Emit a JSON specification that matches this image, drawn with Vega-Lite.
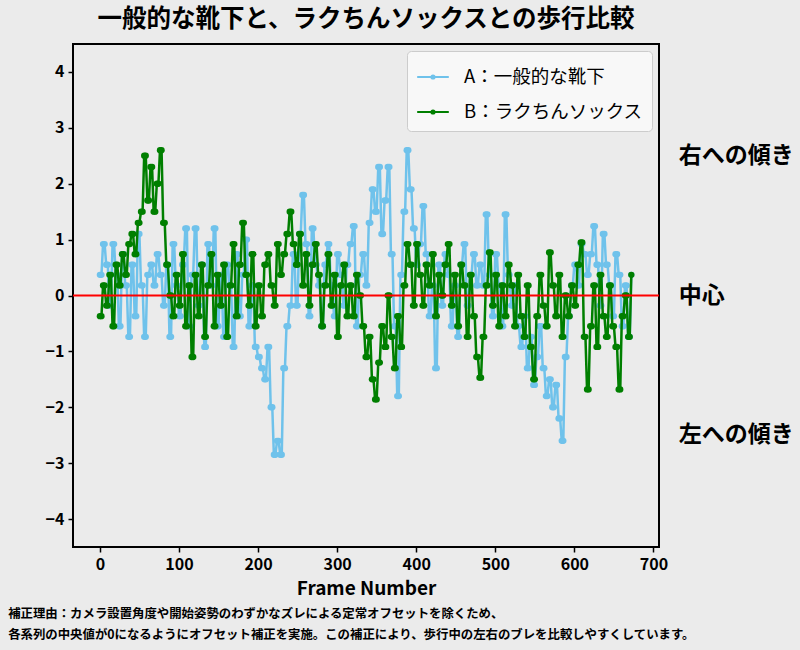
{
  "$schema": "https://vega.github.io/schema/vega-lite/v6.json",
  "width": 586,
  "height": 503,
  "autosize": {"type": "none"},
  "padding": {"left": 73, "top": 44, "right": 141, "bottom": 103},
  "background": "#ebebeb",
  "title": {"text": "一般的な靴下と、ラクちんソックスとの歩行比較", "font": "Noto Sans CJK JP", "fontSize": 24.5, "fontWeight": "bold", "color": "black", "anchor": "middle", "offset": 12},
  "config": {
    "font": "Noto Sans CJK JP",
    "view": {"stroke": "black", "strokeWidth": 2, "fill": "#ebebeb"},
    "axis": {"labelFont": "Noto Sans CJK JP", "labelFontWeight": "bold", "labelFontSize": 16, "labelColor": "black", "tickColor": "black", "tickWidth": 1.5, "tickSize": 5, "domain": false, "grid": false, "titleFont": "Noto Sans CJK JP", "titleFontWeight": "bold", "titleFontSize": 19, "titleColor": "black", "labelPadding": 4}
  },
  "data": {"values": [
    {"frame":0,"A":0.37,"B":-0.37},{"frame":2,"A":0.37,"B":-0.37},{"frame":4,"A":0.92,"B":0.18},{"frame":6,"A":0.92,"B":0.18},{"frame":8,"A":0.55,"B":-0.18},{"frame":10,"A":0.55,"B":-0.18},{"frame":12,"A":-0.18,"B":0.37},{"frame":14,"A":-0.18,"B":0.37},{"frame":16,"A":0.92,"B":-0.55},{"frame":18,"A":0.92,"B":-0.55},
    {"frame":20,"A":0.37,"B":0.55},{"frame":22,"A":0.37,"B":0.55},{"frame":24,"A":-0.55,"B":0.18},{"frame":26,"A":-0.55,"B":0.18},{"frame":28,"A":0.74,"B":0.74},{"frame":30,"A":0.74,"B":0.74},{"frame":32,"A":0.18,"B":0.37},{"frame":34,"A":0.18,"B":0.37},{"frame":36,"A":-0.74,"B":0.92},{"frame":38,"A":-0.74,"B":0.92},
    {"frame":40,"A":0.55,"B":1.1},{"frame":42,"A":0.55,"B":1.1},{"frame":44,"A":-0.37,"B":0.74},{"frame":46,"A":-0.37,"B":0.74},{"frame":48,"A":1.1,"B":1.3},{"frame":50,"A":1.1,"B":1.3},{"frame":52,"A":0.18,"B":1.5},{"frame":54,"A":0.18,"B":1.5},{"frame":56,"A":-0.74,"B":2.5},{"frame":58,"A":-0.74,"B":2.5},
    {"frame":60,"A":0.37,"B":1.7},{"frame":62,"A":0.37,"B":1.7},{"frame":64,"A":0.55,"B":2.3},{"frame":66,"A":0.55,"B":2.3},{"frame":68,"A":0.18,"B":1.5},{"frame":70,"A":0.18,"B":1.5},{"frame":72,"A":0.74,"B":2.0},{"frame":74,"A":0.74,"B":2.0},{"frame":76,"A":0.37,"B":2.6},{"frame":78,"A":0.37,"B":2.6},
    {"frame":80,"A":-0.18,"B":1.3},{"frame":82,"A":-0.18,"B":1.3},{"frame":84,"A":0.55,"B":0.55},{"frame":86,"A":0.55,"B":0.55},{"frame":88,"A":-0.74,"B":0.0},{"frame":90,"A":-0.74,"B":0.0},{"frame":92,"A":0.92,"B":-0.37},{"frame":94,"A":0.92,"B":-0.37},{"frame":96,"A":0.18,"B":0.37},{"frame":98,"A":0.18,"B":0.37},
    {"frame":100,"A":-0.37,"B":-0.18},{"frame":102,"A":-0.37,"B":-0.18},{"frame":104,"A":0.55,"B":0.74},{"frame":106,"A":0.55,"B":0.74},{"frame":108,"A":1.2,"B":-0.55},{"frame":110,"A":1.2,"B":-0.55},{"frame":112,"A":-0.55,"B":0.18},{"frame":114,"A":-0.55,"B":0.18},{"frame":116,"A":0.37,"B":-1.1},{"frame":118,"A":0.37,"B":-1.1},
    {"frame":120,"A":1.2,"B":0.37},{"frame":122,"A":1.2,"B":0.37},{"frame":124,"A":-0.18,"B":-0.37},{"frame":126,"A":-0.18,"B":-0.37},{"frame":128,"A":0.55,"B":0.55},{"frame":130,"A":0.55,"B":0.55},{"frame":132,"A":-0.92,"B":-0.74},{"frame":134,"A":-0.92,"B":-0.74},{"frame":136,"A":0.92,"B":0.18},{"frame":138,"A":0.92,"B":0.18},
    {"frame":140,"A":0.18,"B":0.74},{"frame":142,"A":0.18,"B":0.74},{"frame":144,"A":1.2,"B":-0.55},{"frame":146,"A":1.2,"B":-0.55},{"frame":148,"A":-0.55,"B":0.37},{"frame":150,"A":-0.55,"B":0.37},{"frame":152,"A":0.37,"B":-0.18},{"frame":154,"A":0.37,"B":-0.18},{"frame":156,"A":-0.74,"B":0.55},{"frame":158,"A":-0.74,"B":0.55},
    {"frame":160,"A":0.55,"B":-0.74},{"frame":162,"A":0.55,"B":-0.74},{"frame":164,"A":0.18,"B":0.18},{"frame":166,"A":0.18,"B":0.18},{"frame":168,"A":-0.92,"B":0.92},{"frame":170,"A":-0.92,"B":0.92},{"frame":172,"A":0.74,"B":-0.37},{"frame":174,"A":0.74,"B":-0.37},{"frame":176,"A":-0.37,"B":0.55},{"frame":178,"A":-0.37,"B":0.55},
    {"frame":180,"A":0.37,"B":1.3},{"frame":182,"A":0.37,"B":1.3},{"frame":184,"A":1.0,"B":0.37},{"frame":186,"A":1.0,"B":0.37},{"frame":188,"A":-0.55,"B":-0.18},{"frame":190,"A":-0.55,"B":-0.18},{"frame":192,"A":0.18,"B":0.74},{"frame":194,"A":0.18,"B":0.74},{"frame":196,"A":-0.92,"B":-0.55},{"frame":198,"A":-0.92,"B":-0.55},
    {"frame":200,"A":-1.1,"B":0.18},{"frame":202,"A":-1.1,"B":0.18},{"frame":204,"A":-1.3,"B":-0.37},{"frame":206,"A":-1.3,"B":-0.37},{"frame":208,"A":-1.5,"B":0.55},{"frame":210,"A":-1.5,"B":0.55},{"frame":212,"A":-0.92,"B":0.74},{"frame":214,"A":-0.92,"B":0.74},{"frame":216,"A":-2.0,"B":0.18},{"frame":218,"A":-2.0,"B":0.18},
    {"frame":220,"A":-2.85,"B":-0.18},{"frame":222,"A":-2.85,"B":-0.18},{"frame":224,"A":-2.6,"B":0.92},{"frame":226,"A":-2.6,"B":0.92},{"frame":228,"A":-2.85,"B":0.37},{"frame":230,"A":-2.85,"B":0.37},{"frame":232,"A":-1.3,"B":0.74},{"frame":234,"A":-1.3,"B":0.74},{"frame":236,"A":-0.55,"B":1.1},{"frame":238,"A":-0.55,"B":1.1},
    {"frame":240,"A":-0.18,"B":1.5},{"frame":242,"A":-0.18,"B":1.5},{"frame":244,"A":0.74,"B":0.92},{"frame":246,"A":0.74,"B":0.92},{"frame":248,"A":-0.18,"B":0.55},{"frame":250,"A":-0.18,"B":0.55},{"frame":252,"A":1.1,"B":1.1},{"frame":254,"A":1.1,"B":1.1},{"frame":256,"A":1.8,"B":0.18},{"frame":258,"A":1.8,"B":0.18},
    {"frame":260,"A":0.92,"B":0.74},{"frame":262,"A":0.92,"B":0.74},{"frame":264,"A":-0.37,"B":-0.18},{"frame":266,"A":-0.37,"B":-0.18},{"frame":268,"A":1.2,"B":0.55},{"frame":270,"A":1.2,"B":0.55},{"frame":272,"A":0.55,"B":0.92},{"frame":274,"A":0.55,"B":0.92},{"frame":276,"A":0.18,"B":0.37},{"frame":278,"A":0.18,"B":0.37},
    {"frame":280,"A":-0.55,"B":-0.55},{"frame":282,"A":-0.55,"B":-0.55},{"frame":284,"A":0.55,"B":0.18},{"frame":286,"A":0.55,"B":0.18},{"frame":288,"A":0.92,"B":0.74},{"frame":290,"A":0.92,"B":0.74},{"frame":292,"A":0.18,"B":-0.18},{"frame":294,"A":0.18,"B":-0.18},{"frame":296,"A":-0.37,"B":0.37},{"frame":298,"A":-0.37,"B":0.37},
    {"frame":300,"A":0.74,"B":-0.74},{"frame":302,"A":0.74,"B":-0.74},{"frame":304,"A":0.37,"B":0.18},{"frame":306,"A":0.37,"B":0.18},{"frame":308,"A":-0.18,"B":0.55},{"frame":310,"A":-0.18,"B":0.55},{"frame":312,"A":0.55,"B":-0.37},{"frame":314,"A":0.55,"B":-0.37},{"frame":316,"A":0.92,"B":0.18},{"frame":318,"A":0.92,"B":0.18},
    {"frame":320,"A":1.24,"B":-0.37},{"frame":322,"A":1.24,"B":-0.37},{"frame":324,"A":-0.55,"B":0.37},{"frame":326,"A":-0.55,"B":0.37},{"frame":328,"A":0.37,"B":0.0},{"frame":330,"A":0.37,"B":0.0},{"frame":332,"A":0.74,"B":-0.55},{"frame":334,"A":0.74,"B":-0.55},{"frame":336,"A":0.18,"B":-1.1},{"frame":338,"A":0.18,"B":-1.1},
    {"frame":340,"A":1.3,"B":-0.74},{"frame":342,"A":1.3,"B":-0.74},{"frame":344,"A":1.9,"B":-1.5},{"frame":346,"A":1.9,"B":-1.5},{"frame":348,"A":1.5,"B":-1.86},{"frame":350,"A":1.5,"B":-1.86},{"frame":352,"A":2.3,"B":-1.2},{"frame":354,"A":2.3,"B":-1.2},{"frame":356,"A":1.1,"B":-0.55},{"frame":358,"A":1.1,"B":-0.55},
    {"frame":360,"A":1.7,"B":-0.92},{"frame":362,"A":1.7,"B":-0.92},{"frame":364,"A":2.3,"B":0.0},{"frame":366,"A":2.3,"B":0.0},{"frame":368,"A":0.74,"B":-0.74},{"frame":370,"A":0.74,"B":-0.74},{"frame":372,"A":-0.55,"B":-1.3},{"frame":374,"A":-0.55,"B":-1.3},{"frame":376,"A":-1.8,"B":-0.37},{"frame":378,"A":-1.8,"B":-0.37},
    {"frame":380,"A":0.37,"B":-0.92},{"frame":382,"A":0.37,"B":-0.92},{"frame":384,"A":1.5,"B":0.18},{"frame":386,"A":1.5,"B":0.18},{"frame":388,"A":2.6,"B":0.92},{"frame":390,"A":2.6,"B":0.92},{"frame":392,"A":1.9,"B":0.55},{"frame":394,"A":1.9,"B":0.55},{"frame":396,"A":1.2,"B":-0.18},{"frame":398,"A":1.2,"B":-0.18},
    {"frame":400,"A":0.55,"B":0.92},{"frame":402,"A":0.55,"B":0.92},{"frame":404,"A":0.92,"B":0.37},{"frame":406,"A":0.92,"B":0.37},{"frame":408,"A":1.6,"B":-0.18},{"frame":410,"A":1.6,"B":-0.18},{"frame":412,"A":0.74,"B":0.55},{"frame":414,"A":0.74,"B":0.55},{"frame":416,"A":-0.37,"B":0.18},{"frame":418,"A":-0.37,"B":0.18},
    {"frame":420,"A":0.18,"B":0.74},{"frame":422,"A":0.18,"B":0.74},{"frame":424,"A":-1.3,"B":-0.37},{"frame":426,"A":-1.3,"B":-0.37},{"frame":428,"A":0.55,"B":0.37},{"frame":430,"A":0.55,"B":0.37},{"frame":432,"A":-0.18,"B":0.0},{"frame":434,"A":-0.18,"B":0.0},{"frame":436,"A":0.74,"B":0.55},{"frame":438,"A":0.74,"B":0.55},
    {"frame":440,"A":0.37,"B":0.92},{"frame":442,"A":0.37,"B":0.92},{"frame":444,"A":-0.55,"B":-0.18},{"frame":446,"A":-0.55,"B":-0.18},{"frame":448,"A":0.18,"B":0.37},{"frame":450,"A":0.18,"B":0.37},{"frame":452,"A":-0.74,"B":-0.55},{"frame":454,"A":-0.74,"B":-0.55},{"frame":456,"A":0.55,"B":0.55},{"frame":458,"A":0.55,"B":0.55},
    {"frame":460,"A":0.92,"B":0.18},{"frame":462,"A":0.92,"B":0.18},{"frame":464,"A":-0.18,"B":-0.74},{"frame":466,"A":-0.18,"B":-0.74},{"frame":468,"A":0.37,"B":0.37},{"frame":470,"A":0.37,"B":0.37},{"frame":472,"A":0.74,"B":-0.37},{"frame":474,"A":0.74,"B":-0.37},{"frame":476,"A":0.18,"B":-1.1},{"frame":478,"A":0.18,"B":-1.1},
    {"frame":480,"A":0.55,"B":-1.47},{"frame":482,"A":0.55,"B":-1.47},{"frame":484,"A":0.18,"B":-0.74},{"frame":486,"A":0.18,"B":-0.74},{"frame":488,"A":1.45,"B":0.18},{"frame":490,"A":1.45,"B":0.18},{"frame":492,"A":0.37,"B":0.77},{"frame":494,"A":0.37,"B":0.77},{"frame":496,"A":-0.37,"B":-0.18},{"frame":498,"A":-0.37,"B":-0.18},
    {"frame":500,"A":0.74,"B":0.37},{"frame":502,"A":0.74,"B":0.37},{"frame":504,"A":0.18,"B":-0.55},{"frame":506,"A":0.18,"B":-0.55},{"frame":508,"A":-0.55,"B":0.18},{"frame":510,"A":-0.55,"B":0.18},{"frame":512,"A":1.45,"B":-0.37},{"frame":514,"A":1.45,"B":-0.37},{"frame":516,"A":0.37,"B":0.55},{"frame":518,"A":0.37,"B":0.55},
    {"frame":520,"A":-0.18,"B":0.18},{"frame":522,"A":-0.18,"B":0.18},{"frame":524,"A":0.18,"B":-0.55},{"frame":526,"A":0.18,"B":-0.55},{"frame":528,"A":-0.55,"B":0.37},{"frame":530,"A":-0.55,"B":0.37},{"frame":532,"A":-0.92,"B":-0.37},{"frame":534,"A":-0.92,"B":-0.37},{"frame":536,"A":-0.37,"B":-0.74},{"frame":538,"A":-0.37,"B":-0.74},
    {"frame":540,"A":-1.3,"B":0.18},{"frame":542,"A":-1.3,"B":0.18},{"frame":544,"A":-0.74,"B":-0.92},{"frame":546,"A":-0.74,"B":-0.92},{"frame":548,"A":-1.6,"B":-1.5},{"frame":550,"A":-1.6,"B":-1.5},{"frame":552,"A":-1.1,"B":-0.37},{"frame":554,"A":-1.1,"B":-0.37},{"frame":556,"A":-0.55,"B":0.37},{"frame":558,"A":-0.55,"B":0.37},
    {"frame":560,"A":-1.3,"B":-0.18},{"frame":562,"A":-1.3,"B":-0.18},{"frame":564,"A":-1.8,"B":-0.55},{"frame":566,"A":-1.8,"B":-0.55},{"frame":568,"A":-1.5,"B":0.77},{"frame":570,"A":-1.5,"B":0.77},{"frame":572,"A":-2.0,"B":0.18},{"frame":574,"A":-2.0,"B":0.18},{"frame":576,"A":-1.6,"B":-0.37},{"frame":578,"A":-1.6,"B":-0.37},
    {"frame":580,"A":-2.2,"B":0.37},{"frame":582,"A":-2.2,"B":0.37},{"frame":584,"A":-2.6,"B":-0.74},{"frame":586,"A":-2.6,"B":-0.74},{"frame":588,"A":-1.1,"B":0.0},{"frame":590,"A":-1.1,"B":0.0},{"frame":592,"A":-0.37,"B":-0.37},{"frame":594,"A":-0.37,"B":-0.37},{"frame":596,"A":0.18,"B":0.18},{"frame":598,"A":0.18,"B":0.18},
    {"frame":600,"A":0.55,"B":-0.18},{"frame":602,"A":0.55,"B":-0.18},{"frame":604,"A":0.18,"B":0.55},{"frame":606,"A":0.18,"B":0.55},{"frame":608,"A":0.92,"B":0.95},{"frame":610,"A":0.92,"B":0.95},{"frame":612,"A":0.74,"B":-0.74},{"frame":614,"A":0.74,"B":-0.74},{"frame":616,"A":0.37,"B":-1.68},{"frame":618,"A":0.37,"B":-1.68},
    {"frame":620,"A":0.74,"B":-0.55},{"frame":622,"A":0.74,"B":-0.55},{"frame":624,"A":1.24,"B":0.18},{"frame":626,"A":1.24,"B":0.18},{"frame":628,"A":0.55,"B":-0.92},{"frame":630,"A":0.55,"B":-0.92},{"frame":632,"A":-0.18,"B":0.37},{"frame":634,"A":-0.18,"B":0.37},{"frame":636,"A":1.1,"B":-0.37},{"frame":638,"A":1.1,"B":-0.37},
    {"frame":640,"A":0.55,"B":-0.74},{"frame":642,"A":0.55,"B":-0.74},{"frame":644,"A":0.18,"B":0.18},{"frame":646,"A":0.18,"B":0.18},{"frame":648,"A":-0.37,"B":-0.55},{"frame":650,"A":-0.37,"B":-0.55},{"frame":652,"A":0.74,"B":-0.92},{"frame":654,"A":0.74,"B":-0.92},{"frame":656,"A":0.37,"B":-1.68},{"frame":658,"A":0.37,"B":-1.68},
    {"frame":660,"A":-0.55,"B":-0.37},{"frame":662,"A":-0.55,"B":-0.37},{"frame":664,"A":0.18,"B":0.0},{"frame":666,"A":0.18,"B":0.0},{"frame":668,"A":-0.74,"B":-0.74},{"frame":670,"A":-0.74,"B":-0.74},{"frame":672,"A":0.37,"B":0.37}
  ]},
  "transform": [{"fold": ["A", "B"], "as": ["series", "value"]}],
  "layer": [
    {
      "transform": [{"filter": "datum.series === 'A'"}],
      "mark": {"type": "line", "strokeWidth": 2.5, "point": {"filled": true, "size": 40}},
      "encoding": {
        "x": {"field": "frame", "type": "quantitative", "scale": {"domain": [-34, 707], "nice": false, "zero": false}, "axis": {"values": [0,100,200,300,400,500,600,700], "title": "Frame Number", "titlePadding": 7}},
        "y": {"field": "value", "type": "quantitative", "scale": {"domain": [-4.5, 4.5], "nice": false}, "axis": {"values": [-4,-3,-2,-1,0,1,2,3,4], "format": "d", "title": null}},
        "color": {"field": "series", "type": "nominal", "scale": {"domain": ["A", "B"], "range": ["#6FC2EB", "#007F00"]},
          "legend": {"title": null, "orient": "top-right", "offset": 7, "labelExpr": "datum.value === 'A' ? 'A：一般的な靴下' : 'B：ラクちんソックス'", "labelFont": "Noto Sans CJK JP", "labelFontSize": 18.5, "labelLimit": 400, "labelColor": "black", "labelOffset": 14, "rowPadding": 8, "padding": 9, "fillColor": "#f8f8f8", "strokeColor": "#cccccc", "cornerRadius": 4, "symbolType": "M-1,0H1M-0.1,0A0.1,0.1 0 1,0 0.1,0A0.1,0.1 0 1,0 -0.1,0Z", "symbolSize": 1000, "symbolStrokeWidth": 2,
            "encode": {"symbols": {"update": {"fill": {"scale": "color", "field": "value"}, "stroke": {"scale": "color", "field": "value"}, "strokeWidth": {"value": 2}, "opacity": {"value": 1}}}}}
        }
      }
    },
    {
      "transform": [{"filter": "datum.series === 'B'"}],
      "mark": {"type": "line", "strokeWidth": 2.5, "point": {"filled": true, "size": 40}},
      "encoding": {
        "x": {"field": "frame", "type": "quantitative"},
        "y": {"field": "value", "type": "quantitative"},
        "color": {"field": "series", "type": "nominal"}
      }
    },
    {
      "data": {"values": [{}]},
      "mark": {"type": "rule", "color": "red", "strokeWidth": 2},
      "encoding": {"y": {"datum": 0}}
    },
    {
      "data": {"values": [{}]},
      "mark": {"type": "text", "align": "left", "baseline": "middle", "fontSize": 23, "fontWeight": "bold", "color": "black"},
      "encoding": {"x": {"datum": 732}, "y": {"datum": 2.5}, "text": {"value": "右への傾き"}}
    },
    {
      "data": {"values": [{}]},
      "mark": {"type": "text", "align": "left", "baseline": "middle", "fontSize": 23, "fontWeight": "bold", "color": "black"},
      "encoding": {"x": {"datum": 732}, "y": {"datum": 0}, "text": {"value": "中心"}}
    },
    {
      "data": {"values": [{}]},
      "mark": {"type": "text", "align": "left", "baseline": "middle", "fontSize": 23, "fontWeight": "bold", "color": "black"},
      "encoding": {"x": {"datum": 732}, "y": {"datum": -2.5}, "text": {"value": "左への傾き"}}
    },
    {
      "data": {"values": [{}]},
      "mark": {"type": "text", "align": "left", "baseline": "middle", "fontSize": 12.4, "fontWeight": "bold", "color": "black"},
      "encoding": {"x": {"datum": -116}, "y": {"datum": -5.7}, "text": {"value": "補正理由：カメラ設置角度や開始姿勢のわずかなズレによる定常オフセットを除くため、"}}
    },
    {
      "data": {"values": [{}]},
      "mark": {"type": "text", "align": "left", "baseline": "middle", "fontSize": 12.4, "fontWeight": "bold", "color": "black"},
      "encoding": {"x": {"datum": -116}, "y": {"datum": -6.08}, "text": {"value": "各系列の中央値が0になるようにオフセット補正を実施。この補正により、歩行中の左右のブレを比較しやすくしています。"}}
    }
  ]
}
